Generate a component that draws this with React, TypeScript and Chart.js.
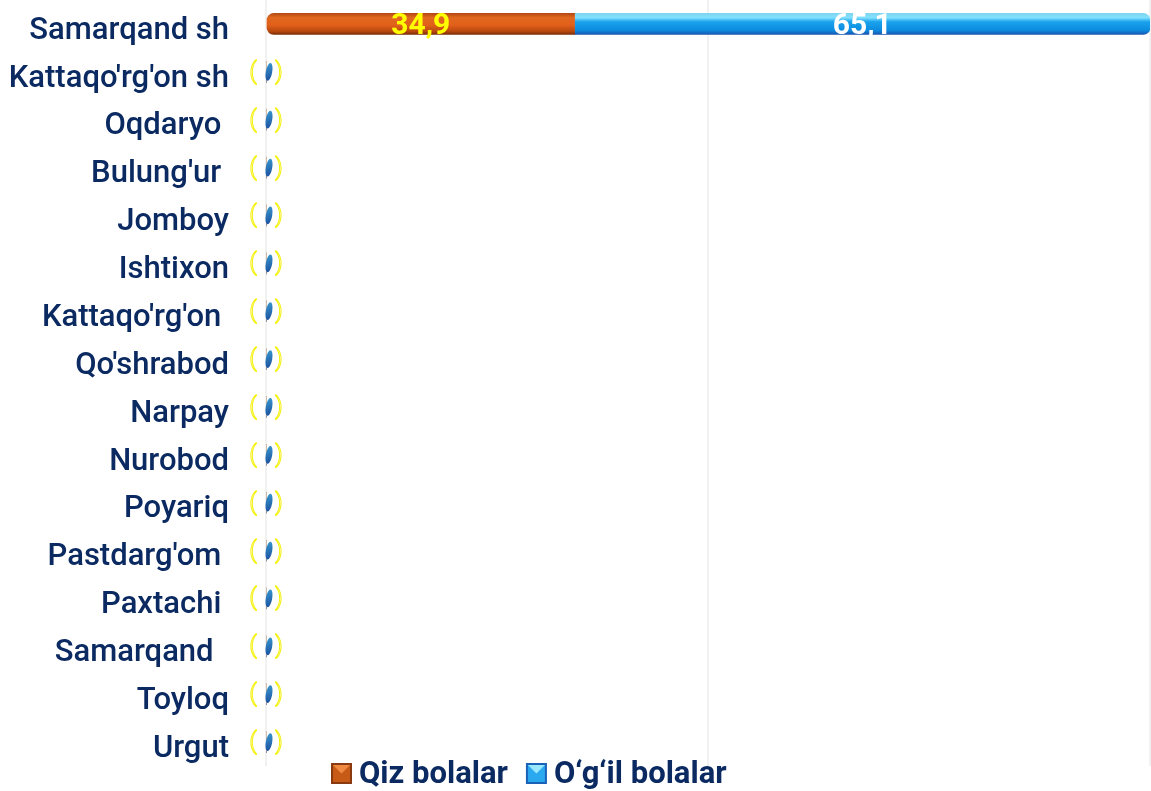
import React, { useEffect, useRef } from "react";
import { Chart, registerables } from "chart.js";

Chart.register(...registerables);

const categories = [
  "Samarqand sh",
  "Kattaqo'rg'on sh",
  "Oqdaryo ",
  "Bulung'ur ",
  "Jomboy",
  "Ishtixon",
  "Kattaqo'rg'on ",
  "Qo'shrabod",
  "Narpay",
  "Nurobod",
  "Poyariq",
  "Pastdarg'om ",
  "Paxtachi ",
  "Samarqand  ",
  "Toyloq",
  "Urgut",
];
const girls = [34.9, 0, 0, 0, 0, 0, 0, 0, 0, 0, 0, 0, 0, 0, 0, 0];
const boys = [65.1, 0, 0, 0, 0, 0, 0, 0, 0, 0, 0, 0, 0, 0, 0, 0];
const seriesNames = ["Qiz bolalar", "O\u2018g\u2018il bolalar"];
const xTicks = [0, 50, 100];

const NAVY = "#0b2a62";
const FONT = "Roboto, 'DejaVu Sans', sans-serif";
const BAR = 21;

function orangeGrad(ctx: CanvasRenderingContext2D, y0: number, y1: number) {
  const g = ctx.createLinearGradient(0, y0, 0, y1);
  g.addColorStop(0, "#b44a14");
  g.addColorStop(0.2, "#e0681e");
  g.addColorStop(0.55, "#e2601a");
  g.addColorStop(0.85, "#b8480e");
  g.addColorStop(1, "#7a2e08");
  return g;
}
function blueGrad(ctx: CanvasRenderingContext2D, y0: number, y1: number) {
  const g = ctx.createLinearGradient(0, y0, 0, y1);
  g.addColorStop(0, "#7fd6f0");
  g.addColorStop(0.2, "#82e0ff");
  g.addColorStop(0.4, "#1aa2ec");
  g.addColorStop(0.8, "#0c8ce0");
  g.addColorStop(1, "#1a56b0");
  return g;
}

const fmt = (v: number) => v.toFixed(1).replace(".", ",");

const overlayPlugin = {
  id: "overlay",
  afterDatasetsDraw(chart: any) {
    const ctx: CanvasRenderingContext2D = chart.ctx;
    const xs = chart.scales.x;
    const ys = chart.scales.y;
    const x0 = xs.getPixelForValue(0);
    ctx.save();
    categories.forEach((_, i) => {
      const y = ys.getPixelForValue(i);
      const total = girls[i] + boys[i];
      if (total === 0) {
        ctx.font = `300 24px ${FONT}`;
        ctx.textAlign = "center";
        ctx.textBaseline = "middle";
        ctx.strokeStyle = "#f4f000";
        ctx.lineWidth = 0.9;
        ctx.strokeText("(", x0 - 13, y + 1);
        ctx.strokeText(")", x0 + 13, y + 1);
        const g = ctx.createLinearGradient(x0, y - 9, x0 + 6, y + 9);
        g.addColorStop(0, "#3a9ad0");
        g.addColorStop(1, "#1a4e9e");
        ctx.fillStyle = g;
        ctx.beginPath();
        ctx.ellipse(x0 + 3, y, 3.2, 9, 0.18, 0, Math.PI * 2);
        ctx.fill();
      }
    });
    chart.data.datasets.forEach((ds: any, di: number) => {
      const meta = chart.getDatasetMeta(di);
      meta.data.forEach((bar: any, i: number) => {
        const v = ds.data[i];
        if (!v) return;
        const cx = (bar.x + bar.base) / 2;
        ctx.font = `bold 30px ${FONT}`;
        ctx.textAlign = "center";
        ctx.textBaseline = "middle";
        ctx.fillStyle = di === 0 ? "#ffff00" : "#ffffff";
        ctx.fillText(fmt(v), cx, bar.y + 3);
      });
    });
    ctx.restore();
  },
  afterDraw(chart: any) {
    const ctx: CanvasRenderingContext2D = chart.ctx;
    ctx.save();
    const colors = [
      ["#f08a40", "#c85a18", "#8a3a10"],
      ["#9ae8ff", "#2aa8f0", "#1a62b8"],
    ];
    const box = 21;
    let x = 331;
    const yTop = 763;
    ctx.font = `bold 31px ${FONT}`;
    ctx.textBaseline = "middle";
    ctx.textAlign = "left";
    chart.data.datasets.forEach((ds: any, di: number) => {
      const [light, mid, dark] = colors[di];
      ctx.fillStyle = dark;
      ctx.fillRect(x, yTop, box, box);
      ctx.fillStyle = mid;
      ctx.fillRect(x + 2, yTop + 2, box - 4, box - 4);
      ctx.fillStyle = light;
      ctx.beginPath();
      ctx.moveTo(x + 2, yTop + 2);
      ctx.lineTo(x + box - 2, yTop + 2);
      ctx.lineTo(x + box / 2, yTop + box / 2);
      ctx.closePath();
      ctx.fill();
      ctx.fillStyle = NAVY;
      ctx.fillText(ds.label, x + box + 7, yTop + box / 2 + 2);
      const w = ctx.measureText(ds.label).width;
      x += box + 7 + w + 18;
    });
    ctx.restore();
  },
};

function barFill(kind: "o" | "b") {
  return (c: any) => {
    const ys = c.chart.scales?.y;
    const y = ys ? ys.getPixelForValue(c.dataIndex) : NaN;
    if (!Number.isFinite(y)) return kind === "o" ? "#e0641a" : "#1898e6";
    return kind === "o"
      ? orangeGrad(c.chart.ctx, y - BAR / 2, y + BAR / 2)
      : blueGrad(c.chart.ctx, y - BAR / 2, y + BAR / 2);
  };
}

export default function App() {
  const ref = useRef<HTMLCanvasElement>(null);
  useEffect(() => {
    document.body.style.margin = "0";
    const canvas = ref.current!;
    const chart = new Chart(canvas, {
      type: "bar",
      data: {
        labels: categories,
        datasets: [
          {
            label: seriesNames[0],
            data: girls,
            backgroundColor: barFill("o"),
            borderRadius: { topLeft: 7, bottomLeft: 7, topRight: 0, bottomRight: 0 },
            borderSkipped: false,
            barThickness: BAR,
          },
          {
            label: seriesNames[1],
            data: boys,
            backgroundColor: barFill("b"),
            borderRadius: { topLeft: 0, bottomLeft: 0, topRight: 7, bottomRight: 7 },
            borderSkipped: false,
            barThickness: BAR,
          },
        ],
      },
      options: {
        indexAxis: "y",
        responsive: false,
        animation: false,
        layout: { padding: { top: -2, bottom: 25, left: 0, right: 1 } },
        plugins: {
          legend: { display: false },
          tooltip: { enabled: false },
        },
        scales: {
          x: {
            stacked: true,
            min: 0,
            max: 100,
            afterBuildTicks: (s: any) => {
              s.ticks = xTicks.map((v) => ({ value: v }));
            },
            afterFit: (s: any) => {
              s.height = 0;
              s.paddingLeft = 0;
              s.paddingRight = 0;
            },
            ticks: { display: false },
            grid: { color: "#f1f1f1", drawTicks: false, lineWidth: 2 },
            border: { display: false },
          },
          y: {
            stacked: true,
            afterFit: (s: any) => {
              s.width = 266;
              s.paddingTop = 0;
              s.paddingBottom = 0;
            },
            ticks: {
              color: NAVY,
              padding: 37,
              labelOffset: 7,
              font: { family: FONT, size: 31, weight: "500" },
            },
            grid: { display: false, drawTicks: false },
            border: { display: false },
          },
        },
      },
      plugins: [overlayPlugin],
    } as any);
    return () => chart.destroy();
  }, []);
  return (
    <div style={{ position: "fixed", left: 0, top: 0, width: 1151, height: 791, background: "#fff" }}>
      <canvas ref={ref} width={1151} height={791} style={{ display: "block" }} />
    </div>
  );
}
